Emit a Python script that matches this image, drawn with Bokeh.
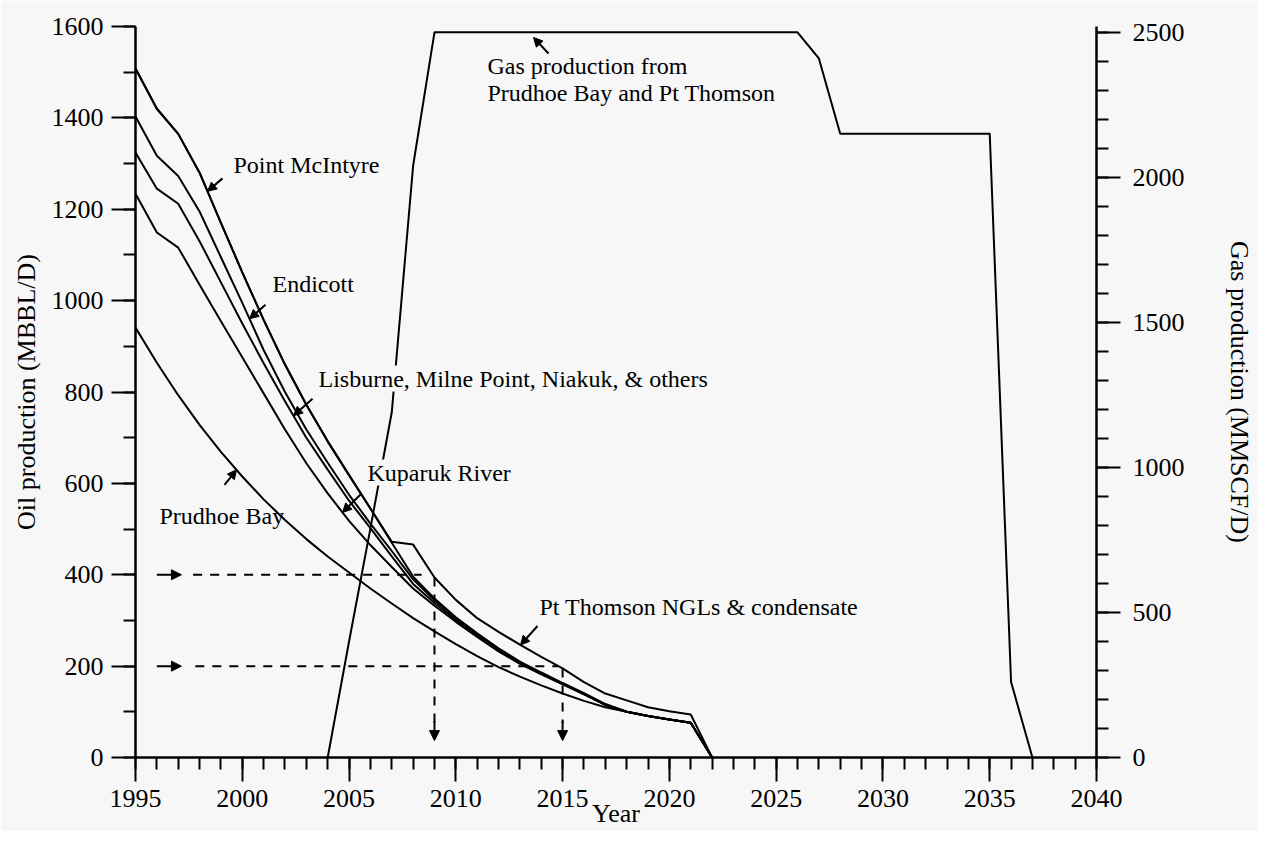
import numpy as np
from bokeh.plotting import figure
from bokeh.models import Range1d, LinearAxis, Arrow, NormalHead, Label, FixedTicker
from bokeh.embed import file_html
from bokeh.resources import INLINE

# ---------------- data ----------------
years = list(range(1995, 2023))
prudhoe = [941, 864, 793, 728, 669, 615, 565, 520, 478, 440, 405, 370, 337, 305,
           276, 248, 222, 198, 177, 158, 140, 124, 110, 100, 91, 83, 76, 0]
kuparuk = [293, 285, 323, 307, 286, 261, 232, 198, 166, 138, 113, 95, 80, 65,
           56, 49, 42, 34, 28, 24, 20, 14, 5, 0, 0, 0, 0, 0]
lisburne = [90, 96, 96, 95, 85, 74, 66, 62, 56, 52, 44, 37, 23, 10,
            6, 4, 3, 3, 2, 2, 1, 1, 0, 0, 0, 0, 0, 0]
endicott = [79, 72, 61, 65, 55, 45, 29, 20, 18, 15, 13, 10, 12, 10,
            6, 4, 3, 2, 1, 1, 1, 1, 1, 0, 0, 0, 0, 0]
mcintyre = [105, 103, 92, 85, 75, 67, 66, 60, 54, 47, 43, 33, 18, 6,
            4, 2, 2, 2, 2, 1, 1, 1, 1, 0, 0, 0, 0, 0]
thomson = [0, 0, 0, 0, 0, 0, 0, 0, 0, 0, 0, 0, 2, 70,
           46, 38, 33, 36, 37, 34, 32, 24, 23, 25, 19, 18, 18, 0]

gas_years = list(range(2004, 2038))
gas = [0, 400, 790, 1190, 2040] + [2500] * 18 + [2410, 2150] + [2150] * 7 + [260, 0]

x_ticks = list(range(1995, 2041, 5))
oil_ticks = list(range(0, 1601, 200))
gas_ticks = list(range(0, 2501, 500))

# ---------------- figure ----------------
BG = "#f7f7f7"
FONT = "Liberation Serif"
X0, X1 = 1995, 2040
Y0, Y1 = 0, 1600
W, H = 1257, 831
FL, FR, FT, FB = 135, 1096, 26, 757   # frame edges in the picture


def px2x(px):
    return X0 + (px - FL) * (X1 - X0) / (FR - FL)


def px2y(py):
    return Y0 + (FB - py) * (Y1 - Y0) / (FB - FT)


p = figure(width=W, height=H, x_range=Range1d(X0, X1), y_range=Range1d(Y0, Y1),
           output_backend="svg", toolbar_location=None,
           min_border_left=FL, min_border_right=W - FR,
           min_border_top=FT, min_border_bottom=H - FB)
p.background_fill_color = BG
p.border_fill_color = BG
p.outline_line_color = None
p.xgrid.grid_line_color = None
p.ygrid.grid_line_color = None
p.extra_y_ranges = {"gas": Range1d(0, 2520)}


def style_axis(ax):
    ax.axis_line_color = "black"
    ax.axis_line_width = 2.5
    ax.major_tick_line_color = "black"
    ax.major_tick_line_width = 2
    ax.minor_tick_line_color = "black"
    ax.minor_tick_line_width = 2
    ax.major_tick_in = 0
    ax.major_tick_out = 24
    ax.minor_tick_in = 0
    ax.minor_tick_out = 12
    ax.major_label_text_font = FONT
    ax.major_label_text_font_size = "26px"
    ax.major_label_text_color = "black"
    ax.axis_label_text_font = FONT
    ax.axis_label_text_font_size = "26px"
    ax.axis_label_text_font_style = "normal"
    ax.axis_label_text_color = "black"


xa = p.xaxis[0]
xa.ticker = FixedTicker(ticks=x_ticks, minor_ticks=list(range(1995, 2041)))
style_axis(xa)
xa.major_label_standoff = 8
xa.axis_label = "Year"
xa.axis_label_standoff = -11

ya = p.yaxis[0]
ya.ticker = FixedTicker(ticks=oil_ticks, minor_ticks=list(range(0, 1601, 100)))
style_axis(ya)
ya.major_label_standoff = 8
ya.axis_label = "Oil production (MBBL/D)"
ya.axis_label_standoff = 8

ra = LinearAxis(y_range_name="gas",
                ticker=FixedTicker(ticks=gas_ticks, minor_ticks=list(range(0, 2501, 100))))
style_axis(ra)
ra.major_label_standoff = 12
ra.axis_label = "Gas production (MMSCF/D)"
ra.axis_label_standoff = 37
p.add_layout(ra, "right")

# ---------------- stacked oil curves ----------------
series = [prudhoe, kuparuk, lisburne, endicott, mcintyre, thomson]
cum = np.cumsum(np.array(series, dtype=float), axis=0)
for row in cum:
    p.line(years, row, line_color="black", line_width=2)

# gas production on the right axis
p.line(gas_years, gas, line_color="black", line_width=2, y_range_name="gas")

yr = np.array(years, dtype=float)


def on_curve(level, year):
    return float(np.interp(year, yr, cum[level]))


# ---------------- dashed guide lines ----------------
dash = "9 8"
t2009 = on_curve(5, 2009)
t2015 = on_curve(5, 2015)
p.segment(x0=[1997.7, 1997.8], y0=[400, 200], x1=[2008.4, 2014.8], y1=[400, 200],
          line_color="black", line_width=2, line_dash=dash)
p.segment(x0=[2009, 2015], y0=[t2009, t2015], x1=[2009, 2015], y1=[75, 75],
          line_color="black", line_width=2, line_dash=dash)


def arrow(xs, ys, xe, ye, size=10):
    p.add_layout(Arrow(end=NormalHead(size=size, fill_color="black", line_color="black"),
                       x_start=xs, y_start=ys, x_end=xe, y_end=ye,
                       line_color="black", line_width=2))


arrow(1996.0, 400, 1997.15, 400)
arrow(1996.0, 200, 1997.15, 200)
arrow(2009, 80, 2009, 37)
arrow(2015, 80, 2015, 37)


def curve_arrow(level, tip_px, dx, dy):
    """Arrow whose tip sits on stacked curve `level` at picture x tip_px;
    the tail is offset by (dx, dy) picture pixels."""
    xe = px2x(tip_px)
    ye = on_curve(level, xe)
    k = (Y1 - Y0) / (FB - FT)
    xs = px2x(tip_px + dx)
    ys = ye - dy * k
    arrow(xs, ys, xe, ye, size=9)


# ---------------- annotations ----------------
def text(px, py, s, bg=True, size="24px"):
    p.add_layout(Label(x=px2x(px), y=px2y(py), text=s, text_font=FONT,
                       text_font_size=size, text_align="left", text_baseline="middle",
                       text_color="black",
                       background_fill_color=BG if bg else None))


text(233, 164, "Point McIntyre")
curve_arrow(4, 207, 15, -13)
text(272, 283, "Endicott")
curve_arrow(3, 249, 16, -14)
text(318, 378, "Lisburne, Milne Point, Niakuk, & others")
curve_arrow(2, 293, 19, -17)
text(367, 472, "Kuparuk River")
curve_arrow(1, 342, 18, -18)
text(159, 515, "Prudhoe Bay", bg=False)
curve_arrow(0, 236, -12, 15)
text(539, 606, "Pt Thomson NGLs & condensate")
curve_arrow(5, 520, 17, -19)
text(487, 65, "Gas production from")
text(487, 92, "Prudhoe Bay and Pt Thomson")
arrow(px2x(548), px2y(53), px2x(533), px2y(37), size=9)

open("out.html", "w").write(file_html(p, INLINE))
